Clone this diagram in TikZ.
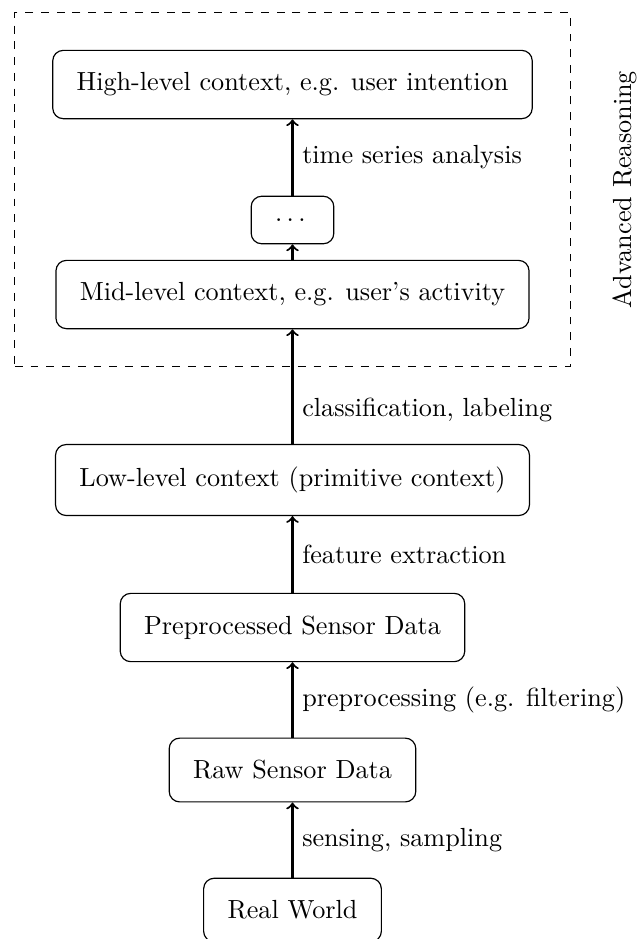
\documentclass[tikz,border=0pt]{standalone}
\usetikzlibrary{fit}
\begin{document}
\begin{tikzpicture}[x=0.3817pt,y=-0.3817pt,
  box/.style={draw, rounded corners, inner ysep=3mm, inner xsep=3.2mm, line width=0.45pt},
  flow/.style={->, thick},
  lab/.style={right, inner sep=0.333em}]
\useasboundingbox (0,0) rectangle (640,939);
\node[box] (high) at (292.5,84.5) {High-level context, e.g. user intention};
\node[box] (dots) at (292.5,220) {.\kern\fontdimen3\font.\kern\fontdimen3\font.\kern\fontdimen3\font};
\node[box] (mid) at (292.5,294.5) {Mid-level context, e.g. user's activity};
\node[box] (low) at (292.5,480) {Low-level context (primitive context)};
\node[box] (prep) at (292.5,627.5) {Preprocessed Sensor Data};
\node[box] (raw) at (292.5,770) {Raw Sensor Data};
\node[box] (real) at (292.5,910) {Real World};
\node[draw, dashed, line width=0.45pt, inner sep=5mm, fit=(high)(mid)] (adv) {};
\node[rotate=90] (advlab) at (625,189.5) {Advanced Reasoning};
\draw[flow] (real) -- node[lab] {sensing, sampling} (raw);
\draw[flow] (raw) -- node[lab] {preprocessing (e.g. filtering)} (prep);
\draw[flow] (prep) -- node[lab] {feature extraction} (low);
\draw[flow] (low) -- node[lab, pos=0.3] {classification, labeling} (mid);
\draw[flow] (mid) -- (dots);
\draw[flow] (dots) -- node[lab] {time series analysis} (high);
\end{tikzpicture}
\end{document}
